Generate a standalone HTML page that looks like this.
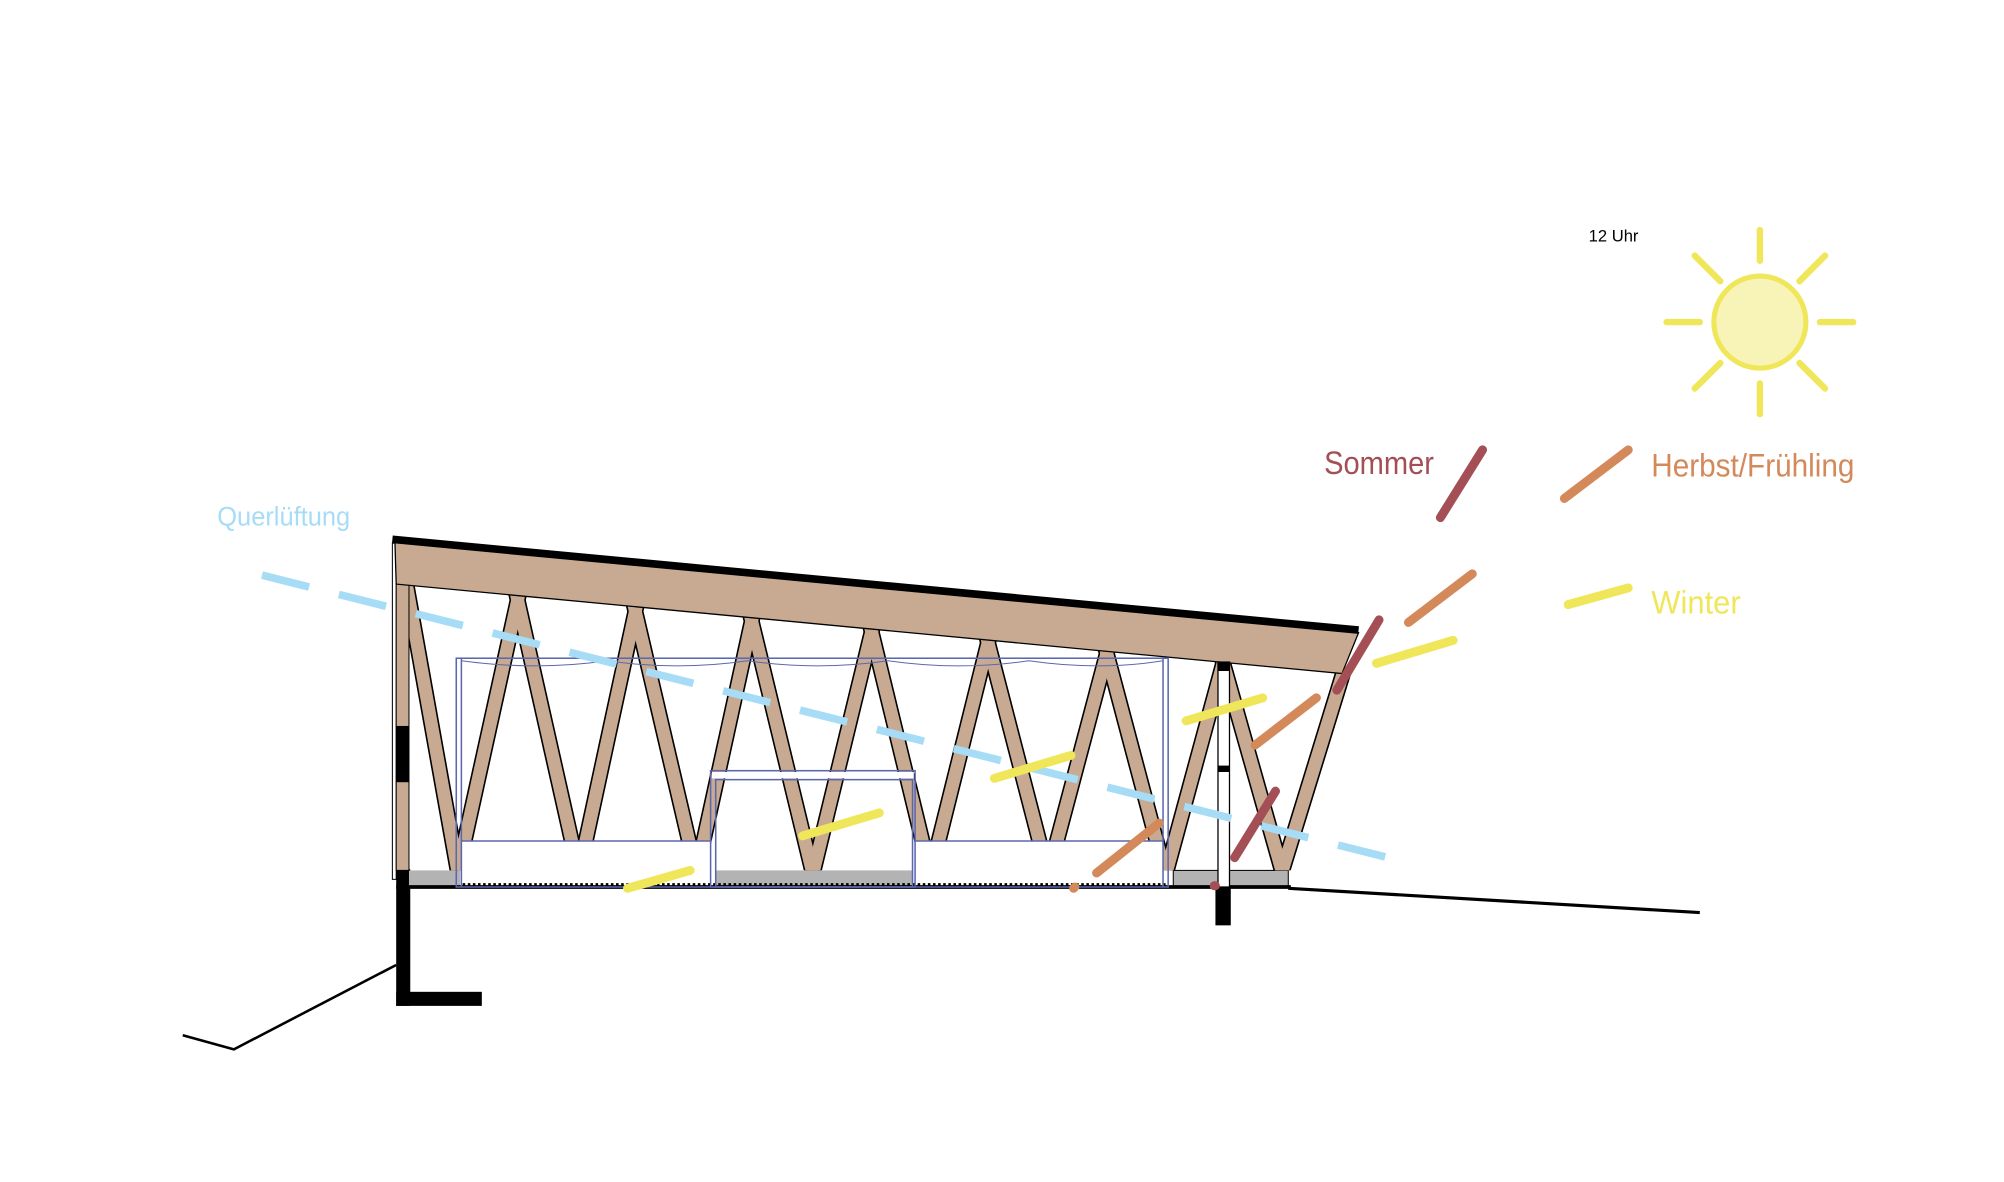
<!DOCTYPE html>
<html><head><meta charset="utf-8"><style>
html,body{margin:0;padding:0;background:#fff;}
svg{display:block;}
text{font-family:"Liberation Sans Narrow","Liberation Sans",sans-serif;}
</style></head><body>
<svg width="2004" height="1182" viewBox="0 0 1568 924.8" preserveAspectRatio="none" xmlns="http://www.w3.org/2000/svg">
<defs>
<clipPath id="tc"><polygon points="310,457 1060,528 1014,681 310,681"/></clipPath>
</defs>
<rect width="1568" height="925" fill="#fff"/>
<polyline points="143,810 183,821 310,755" fill="none" stroke="#000" stroke-width="2"/>
<line x1="1008" y1="695" x2="1330" y2="714" stroke="#000" stroke-width="2.5"/>
<rect x="310" y="680" width="11" height="107" fill="#000"/>
<rect x="310" y="776" width="67" height="11" fill="#000"/>
<rect x="320" y="681" width="40" height="13" fill="#b3b3b3"/>
<rect x="560" y="681" width="154" height="13" fill="#b3b3b3"/>
<rect x="918" y="681" width="90" height="13" fill="#b3b3b3" stroke="#000" stroke-width="0.8"/>
<g clip-path="url(#tc)" stroke-linecap="butt">
<g stroke="#000" stroke-width="12.5">
<line x1="316" y1="446" x2="360" y2="692"/>
<line x1="356" y1="692" x2="408" y2="456"/>
<line x1="402" y1="456" x2="455" y2="692"/>
<line x1="451" y1="692" x2="500" y2="465"/>
<line x1="494" y1="465" x2="547" y2="692"/>
<line x1="543" y1="692" x2="591" y2="473"/>
<line x1="585" y1="473" x2="638" y2="692"/>
<line x1="634" y1="692" x2="685" y2="482"/>
<line x1="679" y1="482" x2="730" y2="692"/>
<line x1="726" y1="692" x2="776" y2="491"/>
<line x1="770" y1="491" x2="822" y2="692"/>
<line x1="818" y1="692" x2="869" y2="500"/>
<line x1="863" y1="500" x2="914" y2="692"/>
<line x1="910" y1="692" x2="960" y2="508"/>
<line x1="954" y1="508" x2="1006" y2="692"/>
<line x1="1000" y1="692" x2="1056" y2="510"/>
</g>
</g>
<g clip-path="url(#tc)" stroke-linecap="butt">
<g stroke="#c7aa91" stroke-width="10">
<line x1="316" y1="446" x2="360" y2="692"/>
<line x1="356" y1="692" x2="408" y2="456"/>
<line x1="402" y1="456" x2="455" y2="692"/>
<line x1="451" y1="692" x2="500" y2="465"/>
<line x1="494" y1="465" x2="547" y2="692"/>
<line x1="543" y1="692" x2="591" y2="473"/>
<line x1="585" y1="473" x2="638" y2="692"/>
<line x1="634" y1="692" x2="685" y2="482"/>
<line x1="679" y1="482" x2="730" y2="692"/>
<line x1="726" y1="692" x2="776" y2="491"/>
<line x1="770" y1="491" x2="822" y2="692"/>
<line x1="818" y1="692" x2="869" y2="500"/>
<line x1="863" y1="500" x2="914" y2="692"/>
<line x1="910" y1="692" x2="960" y2="508"/>
<line x1="954" y1="508" x2="1006" y2="692"/>
<line x1="1000" y1="692" x2="1056" y2="510"/>
</g>
</g>
<rect x="361" y="658" width="195" height="34" fill="#fff"/>
<rect x="716" y="658" width="194" height="34" fill="#fff"/>
<line x1="310" y1="694" x2="1010" y2="694" stroke="#000" stroke-width="3"/>
<line x1="362" y1="692" x2="912" y2="692" stroke="#000" stroke-width="2" stroke-dasharray="2 2"/>
<rect x="307" y="425" width="3" height="263" fill="#fff" stroke="#000" stroke-width="0.8"/>
<rect x="310" y="455" width="10" height="226" fill="#c7aa91" stroke="#000" stroke-width="0.8"/>
<rect x="310" y="568" width="10" height="44" fill="#000"/>
<polygon points="309,424 1063,495 1050,527 310,457" fill="#c7aa91" stroke="#000" stroke-width="1"/>
<line x1="307" y1="422" x2="1063" y2="493" stroke="#000" stroke-width="6"/>
<rect x="953" y="518" width="9" height="176" fill="#fff" stroke="#000" stroke-width="1"/>
<rect x="953" y="518" width="9" height="7" fill="#000"/>
<rect x="953" y="599" width="9" height="5" fill="#000"/>
<rect x="951" y="694" width="12" height="30" fill="#000"/>
<g fill="none" stroke="#5b67ad" stroke-width="1.2">
<rect x="357" y="515" width="557" height="179"/>
<line x1="361" y1="515" x2="361" y2="694"/>
<line x1="910" y1="515" x2="910" y2="694"/>
<line x1="361" y1="658" x2="556" y2="658"/>
<line x1="716" y1="658" x2="910" y2="658"/>
<path d="M361,517 Q420,525 475,517 Q530,525 585,517 Q640,525 695,517 Q750,525 805,517 Q860,525 910,517" stroke-width="0.8"/>
<rect x="556" y="603" width="160" height="91"/>
<rect x="560" y="610" width="154" height="84"/>
</g>
<rect x="557" y="604" width="158" height="5" fill="#fff"/>
<line x1="205" y1="450" x2="1090" y2="672" stroke="#a6dcf6" stroke-width="6" stroke-dasharray="38 24"/>
<text x="170" y="411" font-size="21" fill="#a6dcf6" textLength="104" lengthAdjust="spacingAndGlyphs">Querlüftung</text>
<g stroke="#f0e65a" stroke-width="5" stroke-linecap="round">
<line x1="1377" y1="180" x2="1377" y2="204"/>
<line x1="1377" y1="300" x2="1377" y2="324"/>
<line x1="1304" y1="252" x2="1330" y2="252"/>
<line x1="1424" y1="252" x2="1450" y2="252"/>
<line x1="1326" y1="200" x2="1346" y2="220"/>
<line x1="1428" y1="200" x2="1408" y2="220"/>
<line x1="1326" y1="304" x2="1346" y2="284"/>
<line x1="1428" y1="304" x2="1408" y2="284"/>
</g>
<circle cx="1377" cy="252" r="36" fill="#f8f4b8" stroke="#f0e65a" stroke-width="4"/>
<text x="1243" y="189" font-size="13" fill="#000" textLength="39" lengthAdjust="spacingAndGlyphs">12 Uhr</text>
<text x="1036" y="371" font-size="25" fill="#a44f55" textLength="86" lengthAdjust="spacingAndGlyphs">Sommer</text>
<text x="1292" y="373" font-size="25" fill="#d4895a" textLength="159" lengthAdjust="spacingAndGlyphs">Herbst/Frühling</text>
<text x="1292" y="480" font-size="25" fill="#f0e65a" textLength="70" lengthAdjust="spacingAndGlyphs">Winter</text>
<g stroke-linecap="round" stroke-width="7" fill="none">
<g stroke="#a44f55">
<line x1="1127" y1="405" x2="1160" y2="352"/>
<line x1="1046" y1="540" x2="1079" y2="485"/>
<line x1="966" y1="671" x2="998" y2="619"/>
<line x1="950" y1="693" x2="951" y2="693"/>
</g>
<g stroke="#d4895a">
<line x1="1224" y1="390" x2="1274" y2="352"/>
<line x1="1102" y1="487" x2="1152" y2="449"/>
<line x1="982" y1="583" x2="1030" y2="546"/>
<line x1="858" y1="683" x2="907" y2="644"/>
<line x1="840" y1="695" x2="841" y2="694"/>
</g>
<g stroke="#f0e65a">
<line x1="1227" y1="473" x2="1274" y2="460"/>
<line x1="1077" y1="519" x2="1137" y2="501"/>
<line x1="928" y1="564" x2="988" y2="546"/>
<line x1="778" y1="609" x2="838" y2="591"/>
<line x1="628" y1="654" x2="688" y2="636"/>
<line x1="491" y1="695" x2="540" y2="681"/>
</g>
</g>
</svg>
</body></html>
